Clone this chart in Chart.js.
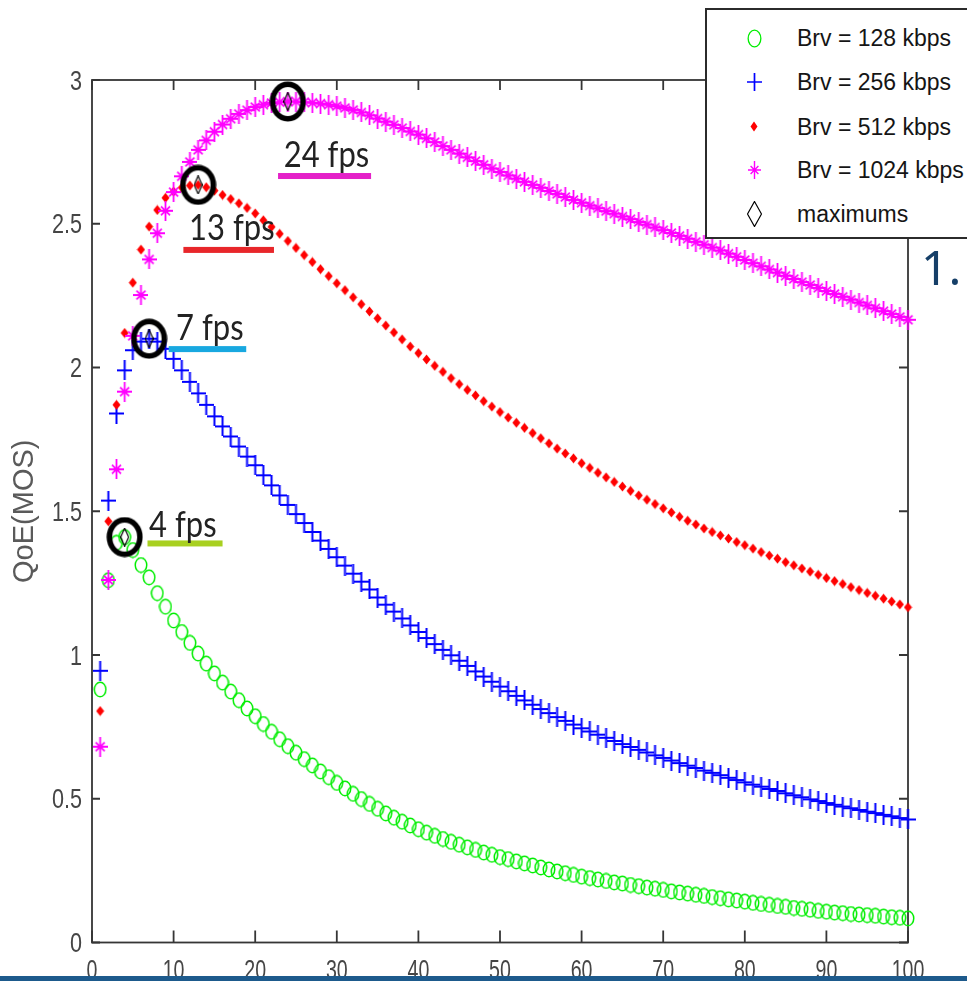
<!DOCTYPE html>
<html lang="en">
<head>
  <meta charset="UTF-8" />
  <title>QoE vs frame rate</title>
  <script src="https://cdn.jsdelivr.net/npm/chart.js"></script>
  <style>
    html, body { margin: 0; padding: 0; background: #fff; overflow: hidden; }
    body { width: 967px; height: 981px; position: relative; }
    #wrap { position: absolute; left: 0; top: 0; width: 967px; height: 981px; }
    #legend {
      position: absolute; left: 705px; top: 8px; width: 290px; height: 231px;
      border: 2px solid #2b2b2b; background: #fff; box-sizing: border-box;
      font-family: "Liberation Sans", Arial, sans-serif; font-size: 23px; color: #151515;
    }
    #legend .row { position: absolute; left: 0; height: 30px; width: 100%; }
    #legend canvas { position: absolute; }
    #legend span { position: absolute; left: 90px; top: 0; line-height: 30px; white-space: nowrap; }
    #slideNum {
      position: absolute; left: 921px; top: 243px; font-family: "Noto Sans", sans-serif;
      font-size: 48px; line-height: 1; color: #163f68;
    }
    #slideLine { position: absolute; left: 0; top: 976px; width: 967px; height: 5px; background: #1d5a8c; }
  </style>
</head>
<body>
<div id="wrap"><canvas id="qoeChart" width="967" height="981"></canvas></div>
<div id="legend"></div>
<div id="slideNum">1.</div>
<div id="slideLine"></div>

<script>
  // frame rate (fps) on the x axis
  const fps = [1,2,3,4,5,6,7,8,9,10,11,12,13,14,15,16,17,18,19,20,21,22,23,24,25,26,27,28,29,30,
    31,32,33,34,35,36,37,38,39,40,41,42,43,44,45,46,47,48,49,50,51,52,53,54,55,56,57,58,59,60,
    61,62,63,64,65,66,67,68,69,70,71,72,73,74,75,76,77,78,79,80,81,82,83,84,85,86,87,88,89,90,
    91,92,93,94,95,96,97,98,99,100];

  // QoE (MOS)
  const qoe128 = [0.88,1.26,1.39,1.41,1.365,1.313,1.27,1.215,1.168,1.12,
    1.08,1.042,1.005,0.97,0.936,0.904,0.873,0.843,0.814,0.787,
    0.76,0.733,0.707,0.683,0.66,0.638,0.616,0.595,0.575,0.555,
    0.536,0.517,0.499,0.482,0.465,0.449,0.434,0.42,0.407,0.394,
    0.382,0.371,0.36,0.35,0.34,0.331,0.322,0.313,0.305,0.297,
    0.29,0.282,0.275,0.268,0.261,0.254,0.247,0.241,0.235,0.229,
    0.224,0.219,0.214,0.209,0.205,0.2,0.196,0.191,0.187,0.183,
    0.178,0.174,0.17,0.166,0.162,0.158,0.154,0.15,0.146,0.142,
    0.138,0.134,0.131,0.127,0.124,0.12,0.117,0.114,0.11,0.107,
    0.104,0.102,0.099,0.097,0.095,0.093,0.09,0.088,0.086,0.084];

  const qoe256 = [0.945,1.537,1.84,1.99,2.06,2.09,2.1,2.09,2.065,2.03,
    1.99,1.95,1.91,1.87,1.83,1.795,1.76,1.725,1.69,1.66,
    1.625,1.59,1.555,1.522,1.49,1.459,1.428,1.398,1.369,1.34,
    1.311,1.283,1.255,1.228,1.2,1.175,1.151,1.127,1.103,1.08,
    1.059,1.038,1.018,0.999,0.98,0.962,0.943,0.925,0.907,0.89,
    0.874,0.858,0.842,0.827,0.812,0.798,0.784,0.771,0.758,0.745,
    0.734,0.723,0.712,0.701,0.69,0.68,0.67,0.661,0.651,0.642,
    0.633,0.624,0.615,0.607,0.598,0.59,0.582,0.573,0.565,0.557,
    0.549,0.542,0.534,0.527,0.519,0.512,0.505,0.498,0.492,0.485,
    0.479,0.473,0.467,0.461,0.455,0.45,0.444,0.439,0.433,0.428];

  const qoe512 = [0.805,1.465,1.87,2.12,2.295,2.41,2.49,2.548,2.59,2.612,
    2.626,2.633,2.635,2.627,2.615,2.6,2.586,2.571,2.555,2.536,
    2.512,2.489,2.465,2.44,2.416,2.391,2.367,2.342,2.318,2.293,
    2.269,2.244,2.22,2.195,2.171,2.146,2.122,2.098,2.073,2.05,
    2.028,2.006,1.985,1.963,1.942,1.922,1.903,1.883,1.864,1.845,
    1.826,1.808,1.79,1.772,1.754,1.736,1.718,1.701,1.684,1.667,
    1.651,1.634,1.618,1.602,1.586,1.571,1.555,1.54,1.525,1.51,
    1.496,1.481,1.467,1.454,1.44,1.428,1.416,1.405,1.393,1.382,
    1.37,1.358,1.346,1.335,1.323,1.312,1.301,1.29,1.279,1.268,
    1.257,1.247,1.236,1.226,1.216,1.206,1.196,1.186,1.176,1.166];

  const qoe1024 = [0.681,1.261,1.646,1.916,2.11,2.252,2.376,2.467,2.545,2.61,
    2.665,2.715,2.757,2.79,2.82,2.845,2.865,2.882,2.895,2.906,
    2.914,2.92,2.923,2.925,2.925,2.923,2.921,2.918,2.914,2.909,
    2.903,2.896,2.887,2.877,2.866,2.855,2.844,2.833,2.821,2.81,
    2.797,2.784,2.77,2.757,2.744,2.731,2.718,2.705,2.692,2.68,
    2.668,2.657,2.646,2.635,2.625,2.614,2.604,2.593,2.583,2.573,
    2.563,2.554,2.544,2.535,2.525,2.516,2.506,2.497,2.487,2.478,
    2.468,2.458,2.448,2.437,2.427,2.417,2.407,2.396,2.385,2.374,
    2.363,2.352,2.341,2.33,2.319,2.308,2.297,2.287,2.277,2.266,
    2.256,2.246,2.236,2.226,2.216,2.206,2.196,2.186,2.176,2.166];

  const maxFps = [4, 7, 13, 24];
  const maxQoe = [1.41, 2.1, 2.635, 2.925];
  const maxLabels = ['4 fps', '7 fps', '13 fps', '24 fps'];

  const seriesNames = ['Brv = 128 kbps', 'Brv = 256 kbps', 'Brv = 512 kbps', 'Brv = 1024 kbps', 'maximums'];
  const xTicks = [0, 10, 20, 30, 40, 50, 60, 70, 80, 90, 100];
  const yTicks = [0, 0.5, 1, 1.5, 2, 2.5, 3];

  // marker glyphs drawn on small canvases (matlab style)
  function marker(w, h, draw) {
    const c = document.createElement('canvas');
    c.width = w; c.height = h;
    draw(c.getContext('2d'), w, h);
    return c;
  }
  const ring = (col, lw) => (g, w, h) => {
    g.strokeStyle = col; g.lineWidth = lw;
    g.beginPath(); g.ellipse(w / 2, h / 2, w / 2 - lw / 2 - 0.5, h / 2 - lw / 2 - 0.5, 0, 0, Math.PI * 2); g.stroke();
  };
  const plus = (col, lw) => (g, w, h) => {
    g.strokeStyle = col; g.lineWidth = lw;
    g.beginPath(); g.moveTo(w / 2, 0); g.lineTo(w / 2, h); g.moveTo(0, h / 2); g.lineTo(w, h / 2); g.stroke();
  };
  const dia = (col, fill) => (g, w, h) => {
    g.beginPath(); g.moveTo(w / 2, 0.5); g.lineTo(w - 0.5, h / 2); g.lineTo(w / 2, h - 0.5); g.lineTo(0.5, h / 2); g.closePath();
    if (fill) { g.fillStyle = col; g.fill(); } else { g.strokeStyle = col; g.lineWidth = 1.2; g.stroke(); }
  };
  const star = (col, lw) => (g, w, h) => {
    g.strokeStyle = col; g.lineWidth = lw;
    g.beginPath();
    g.moveTo(w / 2, 0); g.lineTo(w / 2, h);
    g.moveTo(0, h / 2); g.lineTo(w, h / 2);
    g.moveTo(w * 0.2, h * 0.28); g.lineTo(w * 0.8, h * 0.72);
    g.moveTo(w * 0.8, h * 0.28); g.lineTo(w * 0.2, h * 0.72);
    g.stroke();
  };

  const colors = ['#00ee00', '#0000ff', '#ff0000', '#ff00ff', '#000000'];
  const plotMarks = [
    marker(14, 17, ring(colors[0], 1.5)),
    marker(15, 20, plus(colors[1], 2)),
    marker(9, 11, dia(colors[2], true)),
    marker(15, 20, star(colors[3], 1.8)),
    marker(9, 19, dia(colors[4], false))
  ];
  const legendMarks = [
    marker(15, 19, ring(colors[0], 1.3)),
    marker(15, 18, plus(colors[1], 1.7)),
    marker(8, 11, dia(colors[2], true)),
    marker(13, 18, star(colors[3], 1.4)),
    marker(15, 26, dia(colors[4], false))
  ];
  const bigRing = marker(37, 41, ring('#000', 5.5));

  const toPts = (xs, ys) => xs.map((v, i) => ({ x: v, y: ys[i] }));
  const series = [qoe128, qoe256, qoe512, qoe1024];

  const datasets = series.map((s, i) => ({
    label: seriesNames[i],
    data: toPts(fps, s),
    pointStyle: plotMarks[i],
    showLine: false,
    clip: false,
    order: 5 - i
  }));
  datasets.push({ label: 'maximums', data: toPts(maxFps, maxQoe), pointStyle: plotMarks[4], showLine: false, clip: false, order: 1 });
  datasets.push({ label: 'circles', data: toPts(maxFps, maxQoe), pointStyle: bigRing, showLine: false, clip: false, order: 0 });

  // the hand-made labels under each maximum (data units)
  const notes = [
    { text: maxLabels[0], x: 7.0, y: 1.41, x0: 6.8, x1: 16.0, ly: 1.388, color: '#a8d020' },
    { text: maxLabels[1], x: 10.3, y: 2.096, x0: 9.4, x1: 18.9, ly: 2.064, color: '#18a8e0' },
    { text: maxLabels[2], x: 11.9, y: 2.443, x0: 11.2, x1: 22.3, ly: 2.409, color: '#e8262a' },
    { text: maxLabels[3], x: 23.5, y: 2.697, x0: 22.8, x1: 34.2, ly: 2.666, color: '#e421c8' }
  ];

  // narrow text helper (the figure's fonts are squeezed sideways)
  function narrowText(ctx, str, x, y, sx, align) {
    ctx.save();
    ctx.translate(x, y);
    ctx.scale(sx, 1);
    ctx.textAlign = align;
    ctx.fillText(str, 0, 0);
    ctx.restore();
  }

  const framePlugin = {
    id: 'frame',
    beforeDatasetsDraw(chart) {
      const { ctx, chartArea: a, scales: { x, y } } = chart;
      ctx.save();
      ctx.strokeStyle = '#363636';
      ctx.lineWidth = 1.8;
      ctx.strokeRect(a.left, a.top, a.right - a.left, a.bottom - a.top);
      ctx.beginPath();
      xTicks.forEach(t => {
        const px = x.getPixelForValue(t);
        ctx.moveTo(px, a.bottom); ctx.lineTo(px, a.bottom - 12);
        ctx.moveTo(px, a.top); ctx.lineTo(px, a.top + 10);
      });
      yTicks.forEach(t => {
        const py = y.getPixelForValue(t);
        ctx.moveTo(a.left, py); ctx.lineTo(a.left + 8, py);
        ctx.moveTo(a.right, py); ctx.lineTo(a.right - 9, py);
      });
      ctx.stroke();

      // tick labels
      ctx.fillStyle = '#454545';
      ctx.textBaseline = 'alphabetic';
      ctx.font = '28px "Liberation Sans", Arial, sans-serif';
      xTicks.forEach(t => narrowText(ctx, String(t), x.getPixelForValue(t), a.bottom + 36, 0.7, 'center'));
      ctx.font = '27px "Liberation Sans", Arial, sans-serif';
      yTicks.forEach(t => narrowText(ctx, String(t), a.left - 10, y.getPixelForValue(t) + 9.5, 0.8, 'right'));
      ctx.restore();
    },
    afterDatasetsDraw(chart) {
      const { ctx, scales: { x, y } } = chart;
      ctx.save();
      notes.forEach(n => {
        ctx.fillStyle = n.color;
        const ly = y.getPixelForValue(n.ly);
        ctx.fillRect(x.getPixelForValue(n.x0), ly - 3, x.getPixelForValue(n.x1) - x.getPixelForValue(n.x0), 6);
        ctx.fillStyle = '#222';
        ctx.font = '36px Lato, "Open Sans", sans-serif';
        ctx.textBaseline = 'alphabetic';
        narrowText(ctx, n.text, x.getPixelForValue(n.x), y.getPixelForValue(n.y), 0.86, 'left');
      });
      ctx.restore();
    }
  };

  new Chart(document.getElementById('qoeChart'), {
    type: 'scatter',
    data: { datasets: datasets },
    options: {
      responsive: false,
      animation: false,
      layout: { padding: { left: 0, right: 59, top: 80, bottom: 0 } },
      plugins: { legend: { display: false }, tooltip: { enabled: false } },
      scales: {
        x: {
          min: 0, max: 100,
          afterBuildTicks: s => { s.ticks = xTicks.map(v => ({ value: v })); },
          afterFit: s => { s.height = 38.5; },
          grid: { display: false, drawTicks: false },
          border: { display: false },
          ticks: { display: false }
        },
        y: {
          min: 0, max: 3,
          afterBuildTicks: s => { s.ticks = yTicks.map(v => ({ value: v })); },
          afterFit: s => { s.width = 92; },
          grid: { display: false, drawTicks: false },
          border: { display: false },
          ticks: { display: false },
          title: {
            display: true, text: 'QoE(MOS)', color: '#5a5a5a',
            font: { family: '"Liberation Sans", Arial, sans-serif', size: 29 },
            padding: { top: 8, bottom: 0 }
          }
        }
      }
    },
    plugins: [framePlugin]
  });

  // legend box, built by hand like the matlab one
  const legend = document.getElementById('legend');
  const rowCenters = [28, 72, 116.5, 160, 203.5];
  seriesNames.forEach((name, i) => {
    const row = document.createElement('div');
    row.className = 'row';
    row.style.top = (rowCenters[i] - 15) + 'px';
    const m = legendMarks[i];
    m.style.left = (47 - m.width / 2) + 'px';
    m.style.top = (15 - m.height / 2) + 'px';
    row.appendChild(m);
    const t = document.createElement('span');
    t.textContent = name;
    row.appendChild(t);
    legend.appendChild(row);
  });
</script>
</body>
</html>
